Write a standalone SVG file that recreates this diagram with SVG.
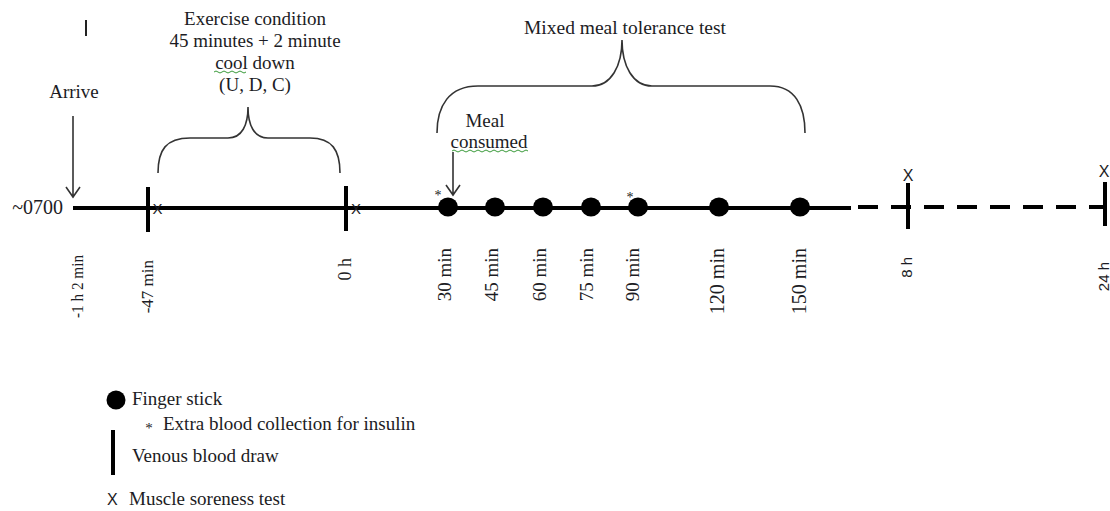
<svg xmlns="http://www.w3.org/2000/svg" width="1110" height="511" viewBox="0 0 1110 511">
<defs>
<style>
text{font-family:"Liberation Serif","Times New Roman",serif;fill:#1c1c24;}
.t19{font-size:19px;}
.lbl{font-size:19px;text-anchor:end;}
.sans{font-family:"Liberation Sans",Arial,sans-serif;}
.mid{text-anchor:middle;}
.axis{stroke:#000;stroke-width:4;fill:none;}
.tick{stroke:#000;stroke-width:4;}
.brace{stroke:#333;stroke-width:1.6;fill:none;}
.arrow{stroke:#333;stroke-width:1.6;fill:none;}
.dot{fill:#000;}
.squig{stroke:#3a9a3a;stroke-width:1;fill:none;}
</style>
</defs>
<rect width="1110" height="511" fill="#fff"/>

<line x1="86" y1="20" x2="86" y2="36" stroke="#222" stroke-width="2"/>

<g id="connectors">
  <line class="axis" x1="73" y1="208" x2="851" y2="208"/>
  <line class="axis" x1="858" y1="207" x2="1105" y2="207" stroke-dasharray="20 13"/>
  <path class="arrow" d="M73,116 L73,197 M66,187 L73,197 L80,187"/>
  <path class="arrow" d="M453,152 L453,195 M446,185 L453,195 L460,185"/>
  <path class="brace" d="M158,173 C158,150 166,138 190,138 L228,138 C242,138 248,125 248,107 C248,125 254,138 268,138 L310,138 C332,138 340,150 340,173"/>
  <path class="brace" d="M437,133 C437,106 449,86 478,86 L592,86 C611,86 622,66 622,40 C622,66 633,86 652,86 L770,86 C795,86 805,106 805,133"/>
</g>

<g id="title-exercise">
  <text class="t19 mid" x="255" y="25">Exercise condition</text>
  <text class="t19 mid" x="255" y="47">45 minutes + 2 minute</text>
  <text class="t19 mid" x="255" y="69">cool down</text>
  <text class="t19 mid" x="255" y="91">(U, D, C)</text>
  <path class="squig" d="M214,72 q2,-2 4,0 t4,0 t4,0 t4,0 t4,0 t4,0 t4,0 t4,0"/>
</g>
<g id="title-mmtt">
  <text class="t19 mid" x="625" y="34" style="font-size:19.5px">Mixed meal tolerance test</text>
</g>
<g id="meal-consumed">
  <text class="t19 mid" x="485" y="127">Meal</text>
  <text class="t19 mid" x="489" y="148">consumed</text>
  <path class="squig" d="M452,151 q2,-2 4,0 t4,0 t4,0 t4,0 t4,0 t4,0 t4,0 t4,0 t4,0 t4,0 t4,0 t4,0 t4,0 t4,0 t4,0 t4,0 t4,0 t4,0 t4,0"/>
</g>
<g id="arrive">
  <text class="t19 mid" x="74" y="98">Arrive</text>
</g>
<g id="start">
  <text x="63" y="214" text-anchor="end" style="font-size:20px">~0700</text>
</g>

<g id="venous-draws">
  <line class="tick" x1="148" y1="187" x2="148" y2="232"/>
  <line class="tick" x1="346" y1="186" x2="346" y2="231"/>
  <line class="tick" x1="908" y1="183" x2="908" y2="229"/>
  <line class="tick" x1="1105" y1="182" x2="1105" y2="226"/>
</g>

<g id="soreness-marks">
  <text class="sans mid" x="157.5" y="214" style="font-size:15px">X</text>
  <text class="sans mid" x="356" y="214" style="font-size:15px">X</text>
  <text class="sans mid" x="908" y="181" style="font-size:16px">X</text>
  <text class="sans mid" x="1104" y="177" style="font-size:16px">X</text>
</g>

<g id="finger-sticks">
  <ellipse class="dot" cx="448" cy="207" rx="10" ry="9.5"/>
  <ellipse class="dot" cx="495" cy="207" rx="10" ry="9.5"/>
  <ellipse class="dot" cx="543" cy="207" rx="10" ry="9.5"/>
  <ellipse class="dot" cx="591" cy="207" rx="10" ry="9.5"/>
  <ellipse class="dot" cx="638" cy="207" rx="10" ry="9.5"/>
  <ellipse class="dot" cx="719" cy="207" rx="10" ry="9.5"/>
  <ellipse class="dot" cx="800" cy="207" rx="10" ry="9.5"/>
  <text x="438" y="200" style="font-size:14px" text-anchor="middle">*</text>
  <text x="630" y="202" style="font-size:14px" text-anchor="middle">*</text>
</g>

<g id="time-labels">
  <text class="lbl" style="font-size:17px" textLength="63" lengthAdjust="spacingAndGlyphs" transform="translate(83,255) rotate(-90)">-1 h 2 min</text>
  <text class="lbl" style="font-size:17px" transform="translate(153,260) rotate(-90)">-47 min</text>
  <text class="lbl" style="font-size:18px" transform="translate(351,258) rotate(-90)">0 h</text>
  <text class="lbl" transform="translate(451,248) rotate(-90)">30 min</text>
  <text class="lbl" transform="translate(498,248) rotate(-90)">45 min</text>
  <text class="lbl" transform="translate(546,248) rotate(-90)">60 min</text>
  <text class="lbl" transform="translate(593,248) rotate(-90)">75 min</text>
  <text class="lbl" transform="translate(639,248) rotate(-90)">90 min</text>
  <text class="lbl" style="font-size:20px" transform="translate(724,248) rotate(-90)">120 min</text>
  <text class="lbl" style="font-size:20px" transform="translate(806,248) rotate(-90)">150 min</text>
  <text class="lbl sans" style="font-size:15px" transform="translate(912,257) rotate(-90)">8 h</text>
  <text class="lbl sans" style="font-size:15px" transform="translate(1109,262) rotate(-90)">24 h</text>
</g>

<g id="legend">
  <g id="legend-finger">
    <ellipse class="dot" cx="116" cy="400" rx="9.5" ry="9.5"/>
    <text class="t19" x="132" y="405">Finger stick</text>
  </g>
  <g id="legend-insulin">
    <text x="149" y="433" style="font-size:15px" text-anchor="middle">*</text>
    <text class="t19" x="163" y="430">Extra blood collection for insulin</text>
  </g>
  <g id="legend-venous">
    <line class="tick" x1="113" y1="430" x2="113" y2="475"/>
    <text class="t19" x="132" y="462">Venous blood draw</text>
  </g>
  <g id="legend-soreness">
    <text class="sans" x="107" y="505" style="font-size:16px">X</text>
    <text class="t19" x="129" y="505">Muscle soreness test</text>
  </g>
</g>
</svg>
